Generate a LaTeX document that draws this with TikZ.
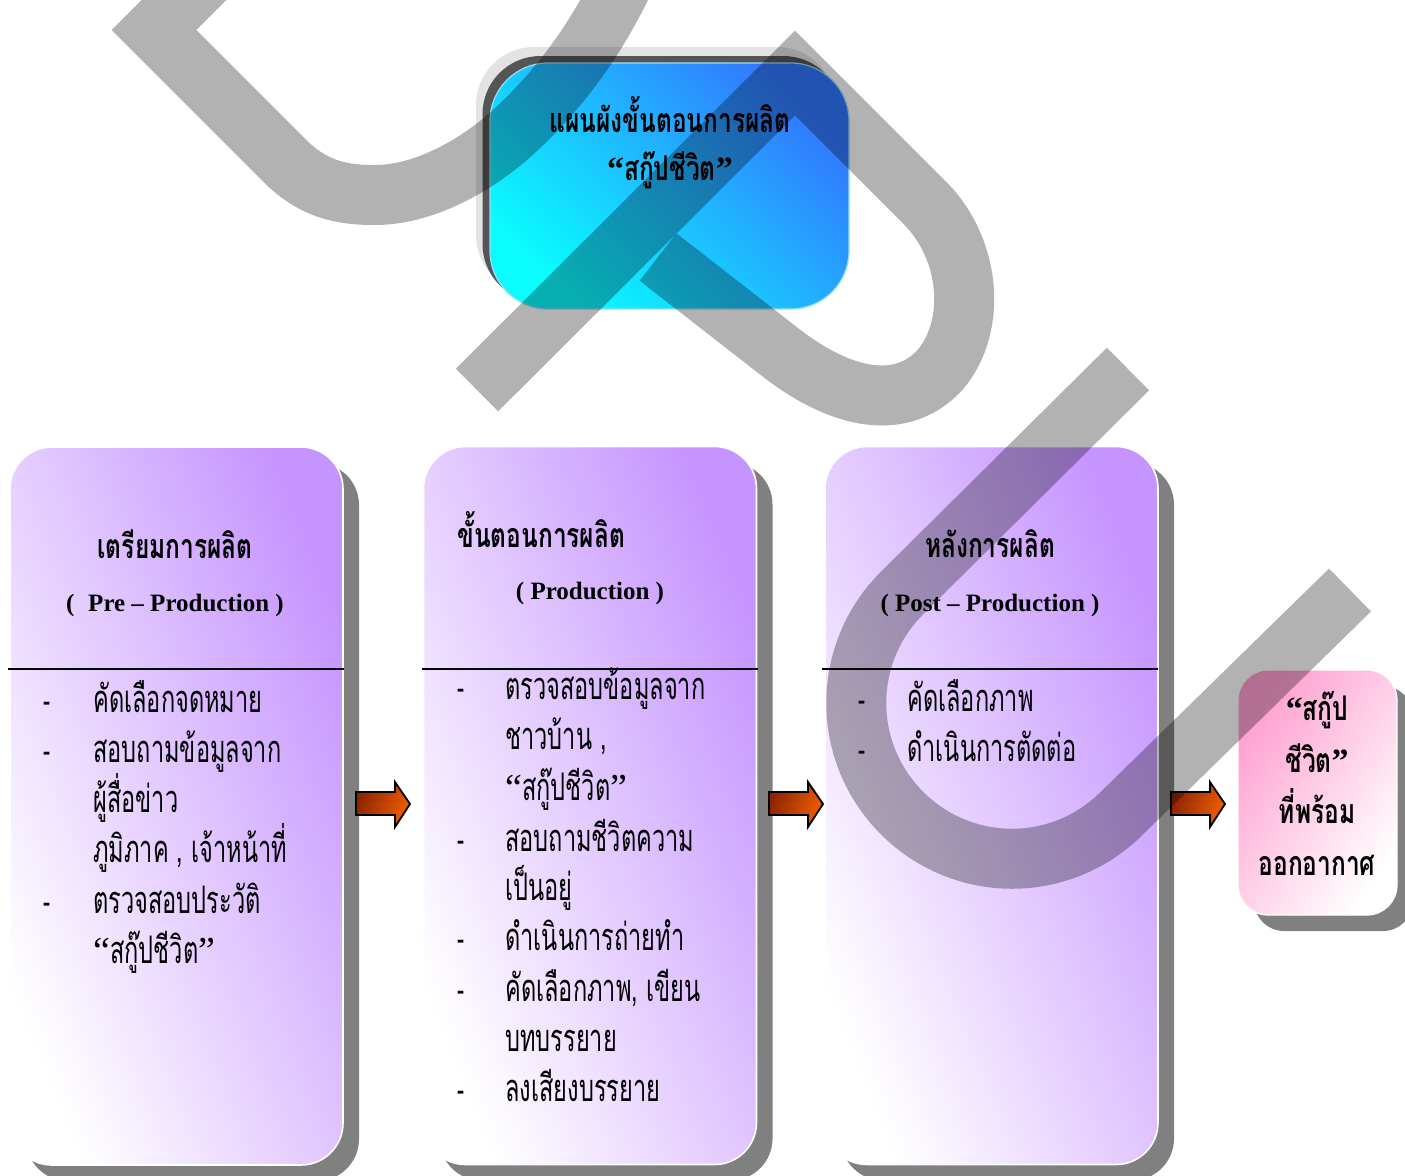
\documentclass[tikz,border=0pt]{standalone}
\usepackage{fontspec}
\usetikzlibrary{calc}
\newfontfamily\thai[Script=Thai,FakeStretch=0.62]{Loma}
\newfontfamily\thaib[Script=Thai,FakeStretch=0.72]{Loma}
\newfontfamily\lat{Liberation Serif}
\definecolor{purp}{RGB}{198,148,255}
\definecolor{cyanA}{RGB}{10,252,255}
\definecolor{blueA}{RGB}{50,120,255}
\definecolor{pinkA}{RGB}{255,160,208}
\definecolor{shadowgray}{RGB}{128,128,128}
\definecolor{arrdark}{RGB}{140,35,0}
\definecolor{arrlight}{RGB}{240,95,0}
\tikzset{
  stagebox/.style={rectangle, rounded corners=21pt, draw=white, line width=0.8pt,
    left color=white, right color=purp, shading angle=112,
    minimum width=166.5pt, minimum height=359pt, inner sep=0pt},
  stageshadow/.style={rectangle, rounded corners=21pt, fill=shadowgray,
    minimum width=166.5pt, minimum height=359pt, inner sep=0pt},
  topbox/.style={rectangle, rounded corners=29pt, draw=white!60!cyan, line width=0.6pt,
    left color=cyanA, right color=blueA, shading angle=135,
    minimum width=179.5pt, minimum height=123pt, inner sep=0pt},
  topshadow/.style={rectangle, rounded corners=29pt,
    minimum width=179.5pt, minimum height=123pt, inner sep=0pt},
  pinkbox/.style={rectangle, rounded corners=15pt, draw=white, line width=0.6pt,
    left color=pinkA, right color=white, shading angle=55,
    minimum width=79.5pt, minimum height=122.5pt, inner sep=0pt},
  pinkshadow/.style={rectangle, rounded corners=15pt, fill=shadowgray,
    minimum width=79.5pt, minimum height=122.5pt, inner sep=0pt},
  divider/.style={line width=0.8pt, black},
  blockarrow/.style={draw=black, line width=0.9pt, left color=arrdark, right color=arrlight,
    shading angle=70, line join=miter},
  itemtxt/.style={anchor=base west, inner sep=0pt, font=\thai\fontsize{19}{22}\selectfont},
  dashtxt/.style={anchor=base, inner sep=0pt, font=\thai\fontsize{17}{20}\selectfont},
  titletxt/.style={anchor=base, inner sep=0pt, font=\thaib\bfseries\fontsize{17}{20}\selectfont},
  lattitle/.style={anchor=base, inner sep=0pt, font=\lat\bfseries\fontsize{12.5}{15}\selectfont},
  watermark/.style={draw=black, draw opacity=0.3, line width=30pt, line cap=butt, line join=miter},
}
\newcommand{\opq}{{\lat “}}
\newcommand{\clq}{{\lat ”}}
\begin{document}
\begin{tikzpicture}[x=0.5pt,y=-0.5pt]
\useasboundingbox (0,0) rectangle (1405,1175);
\fill[white] (0,0) rectangle (1405,1175);

% ---------- top title box ----------
\node[topshadow, fill=gray!22] (tophalo) at (655.5,170) {};
\node[topshadow, fill={rgb,255:red,85;green,85;blue,85}] (topdark) at (662,179) {};
\node[topbox] (top) at (669.5,186) {};
\node[titletxt] (top1) at (670,132) {แผนผังขั้นตอนการผลิต};
\node[titletxt] (top2) at (670,180) {{\lat\bfseries “}สกู๊ปชีวิต{\lat\bfseries ”}};

% ---------- stage boxes ----------
\node[stageshadow] (s1) at (192.5,822) {};
\node[stageshadow] (s2) at (606,821.5) {};
\node[stageshadow] (s3) at (1007.5,821.5) {};
\node[pinkshadow] (s4) at (1333.5,808.5) {};

\node[stagebox] (pre) at (176.5,806) {};
\node[stagebox] (prod) at (590,805.5) {};
\node[stagebox] (post) at (991.5,805.5) {};
\node[pinkbox] (ready) at (1317.5,792.5) {};

\draw[divider] (8,669) -- (344,669);
\draw[divider] (422,669) -- (758,669);
\draw[divider] (822,669) -- (1158,669);

% ---------- block arrows ----------
\foreach \dx in {0,413,815}{
  \draw[blockarrow, shift={(\dx,0)}] (356,792) -- (395,792) -- (395,782) -- (410,804)
     -- (395,827) -- (395,815) -- (356,815) -- cycle;
}

% ---------- box 1 ----------
\node[titletxt] (p1t) at (175,558) {เตรียมการผลิต};
\node[lattitle] (p1l) at (175,611) {(\hspace{0.55em}Pre – Production )};
\node[dashtxt] (p1d1) at (47,712) {-};
\node[itemtxt] (p1i1) at (93,712) {คัดเลือกจดหมาย};
\node[dashtxt] (p1d2) at (47,762) {-};
\node[itemtxt] (p1i2) at (93,762) {สอบถามข้อมูลจาก};
\node[itemtxt] (p1i3) at (93,812) {ผู้สื่อข่าว};
\node[itemtxt] (p1i4) at (93,862) {ภูมิภาค , เจ้าหน้าที่};
\node[dashtxt] (p1d3) at (47,913) {-};
\node[itemtxt] (p1i5) at (93,913) {ตรวจสอบประวัติ};
\node[itemtxt] (p1i6) at (93,963) {\opq สกู๊ปชีวิต\clq};

% ---------- box 2 ----------
\node[titletxt, anchor=base west] (p2t) at (457,547) {ขั้นตอนการผลิต};
\node[lattitle] (p2l) at (590,599) {( Production )};
\node[dashtxt] (p2d1) at (461,699) {-};
\node[itemtxt] (p2i1) at (505,699) {ตรวจสอบข้อมูลจาก};
\node[itemtxt] (p2i2) at (505,749) {ชาวบ้าน ,};
\node[itemtxt] (p2i3) at (505,800) {\opq สกู๊ปชีวิต\clq};
\node[dashtxt] (p2d2) at (461,851) {-};
\node[itemtxt] (p2i4) at (505,851) {สอบถามชีวิตความ};
\node[itemtxt] (p2i5) at (505,900) {เป็นอยู่};
\node[dashtxt] (p2d3) at (461,950) {-};
\node[itemtxt] (p2i6) at (505,950) {ดำเนินการถ่ายทำ};
\node[dashtxt] (p2d4) at (461,1001) {-};
\node[itemtxt] (p2i7) at (505,1001) {คัดเลือกภาพ, เขียน};
\node[itemtxt] (p2i8) at (505,1051) {บทบรรยาย};
\node[dashtxt] (p2d5) at (461,1101) {-};
\node[itemtxt] (p2i9) at (505,1101) {ลงเสียงบรรยาย};

% ---------- box 3 ----------
\node[titletxt] (p3t) at (990,557) {หลังการผลิต};
\node[lattitle] (p3l) at (990,611) {( Post – Production )};
\node[dashtxt] (p3d1) at (862,711) {-};
\node[itemtxt] (p3i1) at (907,711) {คัดเลือกภาพ};
\node[dashtxt] (p3d2) at (862,761) {-};
\node[itemtxt] (p3i2) at (907,761) {ดำเนินการตัดต่อ};

% ---------- pink box ----------
\node[titletxt] (r1) at (1317,720) {{\lat\bfseries “}สกู๊ป};
\node[titletxt] (r2) at (1317,772) {ชีวิต{\lat\bfseries ”}};
\node[titletxt] (r3) at (1317,823) {ที่พร้อม};
\node[titletxt] (r4) at (1317,875) {ออกอากาศ};

% ---------- watermark ----------
\draw[watermark] (214,-30) -- (154,30) -- (285,161) .. controls (315,191) and (345,195) .. (375,195)
   .. controls (420,195) and (470,170) .. (510,135) .. controls (560,90) and (595,40) .. (622,-15);
\draw[watermark] (477,390) -- (795,73) -- (925,203) .. controls (970,248) and (978,325) .. (940,370)
   .. controls (898,415) and (835,395) .. (780,352) -- (658,257);
\draw[watermark] (1128,369) -- (902,593) .. controls (841,654) and (841,752) .. (902,813)
   .. controls (963,874) and (1061,874) .. (1122,813) -- (1350,590);
\end{tikzpicture}
\end{document}
